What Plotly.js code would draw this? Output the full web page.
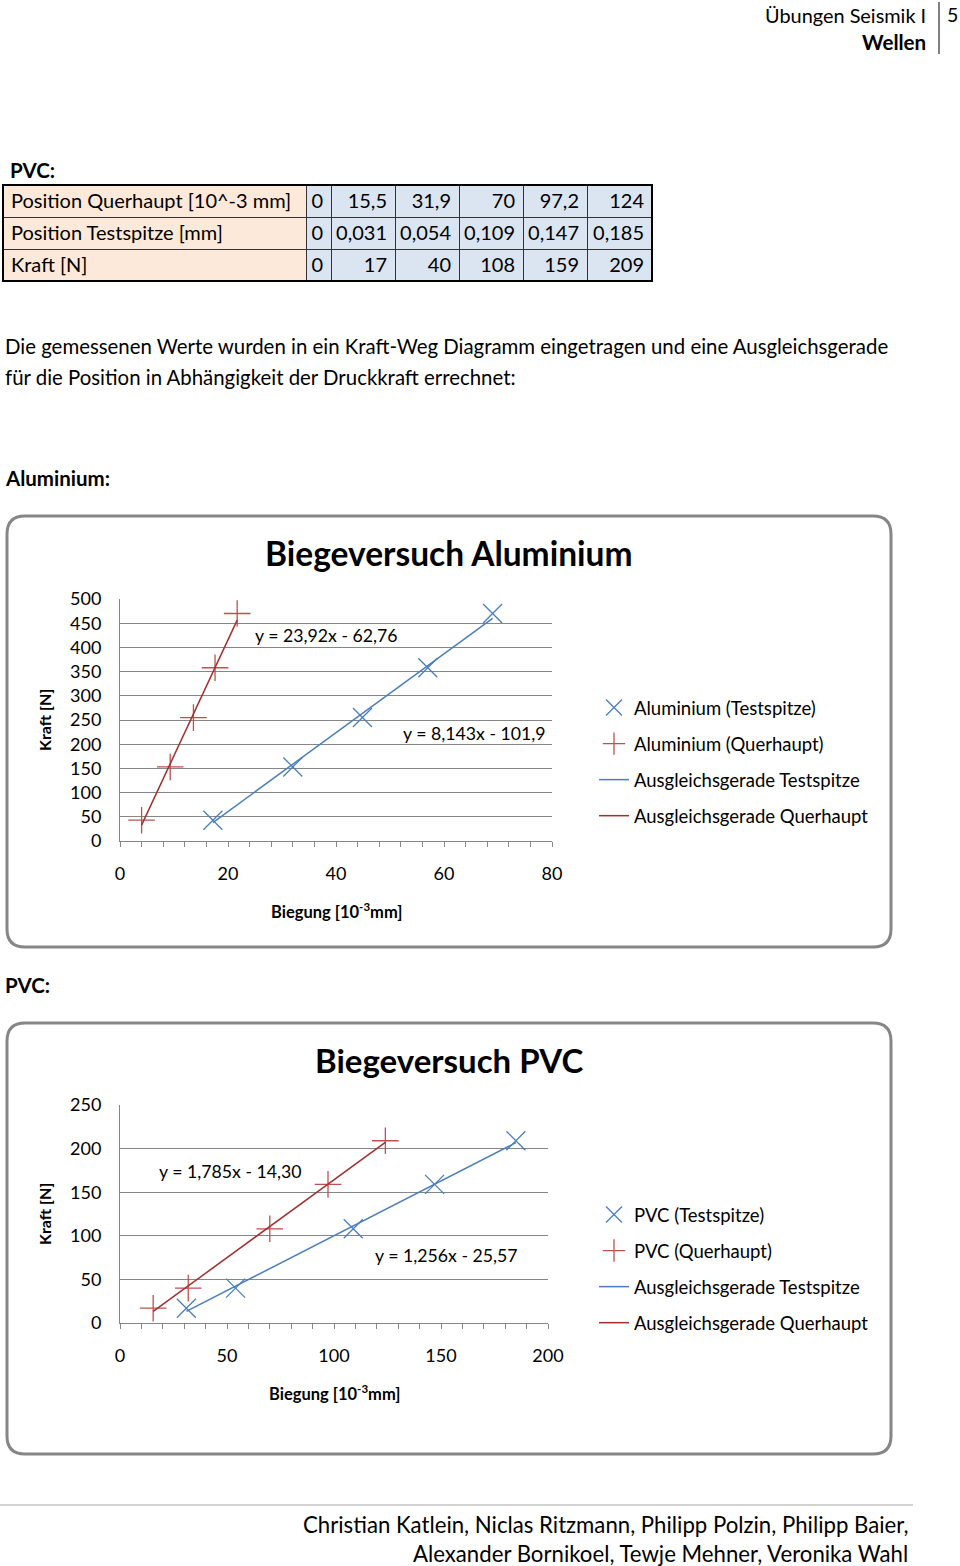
<!DOCTYPE html>
<html><head><meta charset="utf-8">
<script src="https://cdn.plot.ly/plotly-3.0.1.min.js"></script>
<style>html,body{margin:0;padding:0;background:#fff;} #chart{width:960px;height:1566px;}</style>
</head><body><div id="chart"></div>
<script>
// ---------- DATA ----------
const tableRowLabels = ['Position Querhaupt [10^-3 mm]', 'Position Testspitze [mm]', 'Kraft [N]'];
const pvcQuerhauptTbl = ['0', '15,5', '31,9', '70', '97,2', '124'];
const pvcTestspitzeTbl = ['0', '0,031', '0,054', '0,109', '0,147', '0,185'];
const pvcKraftTbl = ['0', '17', '40', '108', '159', '209'];

const aluTestX = [17.2, 32.0, 44.9, 57.0, 69.0];
const aluQuerX = [4.0, 9.3, 13.6, 17.6, 21.7];
const aluKraft = [43, 153, 255, 358, 470];
const aluFitTest = [8.143, -101.9];
const aluFitQuer = [23.92, -62.76];
const aluEqTest = 'y = 8,143x - 101,9';
const aluEqQuer = 'y = 23,92x - 62,76';

const pvcFitTest = [1.256, -25.57];
const pvcFitQuer = [1.785, -14.30];
const pvcEqTest = 'y = 1,256x - 25,57';
const pvcEqQuer = 'y = 1,785x - 14,30';

const aluNames = ['Aluminium (Testspitze)', 'Aluminium (Querhaupt)', 'Ausgleichsgerade Testspitze', 'Ausgleichsgerade Querhaupt'];
const pvcNames = ['PVC (Testspitze)', 'PVC (Querhaupt)', 'Ausgleichsgerade Testspitze', 'Ausgleichsgerade Querhaupt'];

// ---------- HELPERS ----------
const W = 960, H = 1566;
const px = x => x / W;
const py = y => 1 - y / H;
const num = s => parseFloat(s.replace(',', '.'));
const nowrap = s => s.replace(/ /g, '\u00a0');
// chart uses the measured rows without the zero point
const pvcQuerX = pvcQuerhauptTbl.slice(1).map(num);
const pvcTestX = pvcTestspitzeTbl.slice(1).map(s => num(s) * 1000);
const pvcKraft = pvcKraftTbl.slice(1).map(num);

function fitLine(xs, c) {
  const x0 = Math.min(...xs), x1 = Math.max(...xs);
  return { x: [x0, x1], y: [c[0] * x0 + c[1], c[0] * x1 + c[1]] };
}
const FONT = 'Lato, "Open Sans", sans-serif';
const BLUE = '#4a7ebb', RED = '#c0504d', RED_LINE = '#a0302e', BLUE_LINE = '#4a7ebb';
const GRID = '#868686';

function seriesTraces(xa, ya, leg, names, tx, qx, ky, ft, fq, g) {
  const lt = fitLine(tx, ft), lq = fitLine(qx, fq);
  return [
    { type: 'scatter', mode: 'markers', x: tx, y: ky, xaxis: xa, yaxis: ya, legend: leg, legendgroup: g + '1', name: names[0],
      marker: { symbol: 'x-thin', size: 19, color: BLUE, line: { color: BLUE, width: 1.3 } }, hoverinfo: 'x+y' },
    { type: 'scatter', mode: 'markers', x: qx, y: ky, xaxis: xa, yaxis: ya, legend: leg, legendgroup: g + '2', name: names[1],
      marker: { symbol: 'cross-thin', size: 19, color: RED, line: { color: RED, width: 1.3 } }, hoverinfo: 'x+y' },
    { type: 'scatter', mode: 'lines', x: lt.x, y: lt.y, xaxis: xa, yaxis: ya, legend: leg, legendgroup: g + '3', name: names[2],
      line: { color: BLUE_LINE, width: 1.5 } },
    { type: 'scatter', mode: 'lines', x: lq.x, y: lq.y, xaxis: xa, yaxis: ya, legend: leg, legendgroup: g + '4', name: names[3],
      line: { color: RED_LINE, width: 1.5 } }
  ];
}

// ---------- TABLE ----------
const colFill = ['#fde9d9', '#dbe5f1', '#dbe5f1', '#dbe5f1', '#dbe5f1', '#dbe5f1', '#dbe5f1'];
const colAlign = ['left', 'right', 'right', 'right', 'right', 'right', 'right'];
const cellCols = [[nowrap(tableRowLabels[1]), nowrap(tableRowLabels[2])]].concat(
  pvcTestspitzeTbl.map((v, i) => [v, pvcKraftTbl[i]]));
const tableTrace = {
  type: 'table',
  domain: { x: [px(3), px(652)], y: [py(320), py(185)] },
  columnwidth: [303, 25, 64, 64, 64, 64, 65],
  header: { values: [nowrap(tableRowLabels[0])].concat(pvcQuerhauptTbl), align: colAlign, height: 32,
    fill: { color: colFill }, line: { color: '#333', width: 1 },
    font: { family: FONT, size: 20, color: '#000' } },
  cells: { values: cellCols, align: colAlign, height: 32,
    fill: { color: colFill }, line: { color: '#333', width: 1 },
    font: { family: FONT, size: 20, color: '#000' } }
};

const data = [tableTrace]
  .concat(seriesTraces('x', 'y', 'legend', aluNames, aluTestX, aluQuerX, aluKraft, aluFitTest, aluFitQuer, 'a'))
  .concat(seriesTraces('x2', 'y2', 'legend2', pvcNames, pvcTestX, pvcQuerX, pvcKraft, pvcFitTest, pvcFitQuer, 'p'));

// ---------- LAYOUT ----------
function roundRect(x0, y0, x1, y1, r) {
  const P = (x, y) => px(x) + ',' + py(y);
  return 'M' + P(x0 + r, y0) + ' L' + P(x1 - r, y0) + ' Q' + P(x1, y0) + ' ' + P(x1, y0 + r) +
    ' L' + P(x1, y1 - r) + ' Q' + P(x1, y1) + ' ' + P(x1 - r, y1) +
    ' L' + P(x0 + r, y1) + ' Q' + P(x0, y1) + ' ' + P(x0, y1 - r) +
    ' L' + P(x0, y0 + r) + ' Q' + P(x0, y0) + ' ' + P(x0 + r, y0) + ' Z';
}
function xAxis(dom, range, dtick, mdtick, anchor) {
  return { domain: dom, range: range, dtick: dtick, tick0: 0, ticks: 'outside', ticklen: 5, tickcolor: GRID, tickwidth: 1,
    minor: { dtick: mdtick, tick0: 0, ticks: 'outside', ticklen: 5, tickcolor: GRID, tickwidth: 1, showgrid: false },
    showgrid: false, zeroline: false, showline: true, linecolor: GRID, linewidth: 1,
    tickfont: { family: FONT, size: 18, color: '#000' }, ticklabelstandoff: 11, anchor: anchor, fixedrange: true };
}
function yAxis(dom, range, anchor) {
  return { domain: dom, range: range, dtick: 50, tick0: 0, ticks: '', showgrid: true, gridcolor: GRID, gridwidth: 1,
    zeroline: false, showline: true, linecolor: GRID, linewidth: 1,
    tickfont: { family: FONT, size: 18, color: '#000' }, ticklabelstandoff: 14, anchor: anchor, fixedrange: true };
}
function ann(text, x, y, size, xanchor, extra) {
  return Object.assign({ text: text, x: px(x), y: py(y), xref: 'paper', yref: 'paper', showarrow: false,
    xanchor: xanchor || 'left', yanchor: 'middle', font: { family: FONT, size: size, color: '#000' } }, extra || {});
}
const legendBase = { xanchor: 'left', yanchor: 'top', font: { family: FONT, size: 18.5, color: '#000' },
  tracegroupgap: 9, bgcolor: 'rgba(0,0,0,0)', traceorder: 'grouped' };

const layout = {
  width: W, height: H, margin: { l: 0, r: 0, t: 0, b: 0 },
  paper_bgcolor: '#fff', plot_bgcolor: 'rgba(0,0,0,0)',
  font: { family: FONT, color: '#000' }, showlegend: true,
  xaxis: xAxis([px(120), px(552)], [0, 80], 20, 4, 'y'),
  yaxis: yAxis([py(841), py(599)], [0, 500], 'x'),
  xaxis2: xAxis([px(120), px(548)], [0, 200], 50, 10, 'y2'),
  yaxis2: yAxis([py(1323), py(1105)], [0, 250], 'x2'),
  legend: Object.assign({ x: px(594), y: py(689) }, legendBase),
  legend2: Object.assign({ x: px(594), y: py(1196) }, legendBase),
  shapes: [
    { type: 'path', xref: 'paper', yref: 'paper', path: roundRect(7, 516, 891, 947, 18), line: { color: GRID, width: 3 }, layer: 'below' },
    { type: 'path', xref: 'paper', yref: 'paper', path: roundRect(7, 1023, 891, 1454, 18), line: { color: GRID, width: 3 }, layer: 'below' },
    { type: 'line', xref: 'paper', yref: 'paper', x0: px(939), x1: px(939), y0: py(2), y1: py(54), line: { color: '#000', width: 1 } },
    { type: 'line', xref: 'paper', yref: 'paper', x0: px(0), x1: px(913), y0: py(1505), y1: py(1505), line: { color: '#a6a6a6', width: 1 } },
    { type: 'rect', xref: 'paper', yref: 'paper', x0: px(3), x1: px(652), y0: py(185), y1: py(281), line: { color: '#000', width: 2 } }
  ],
  annotations: [
    ann('Übungen Seismik I', 928, 15, 19.9, 'right'),
    ann('<b>Wellen</b>', 928, 42, 20.6, 'right'),
    ann('5', 945, 15, 19.5, 'left'),
    ann('<b>PVC:</b>', 8, 170, 20.5, 'left'),
    ann('Die gemessenen Werte wurden in ein Kraft-Weg Diagramm eingetragen und eine Ausgleichsgerade', 3, 346, 20.4, 'left'),
    ann('für die Position in Abhängigkeit der Druckkraft errechnet:', 3, 377, 20.4, 'left'),
    ann('<b>Aluminium:</b>', 3, 478, 20.5, 'left'),
    ann('<b>Biegeversuch Aluminium</b>', 449, 553, 33.5, 'center'),
    ann('<b>Kraft [N]</b>', 44, 720, 16, 'center', { textangle: -90 }),
    ann('<b>Biegung [10<sup>-3</sup>mm]</b>', 336, 911, 16.5, 'center'),
    ann(aluEqQuer, 326, 635, 17.7, 'center'),
    ann(aluEqTest, 474, 733, 17.7, 'center'),
    ann('<b>PVC:</b>', 3, 985, 20.5, 'left'),
    ann('<b>Biegeversuch PVC</b>', 449, 1060, 33, 'center'),
    ann('<b>Kraft [N]</b>', 44, 1214, 16, 'center', { textangle: -90 }),
    ann('<b>Biegung [10<sup>-3</sup>mm]</b>', 334, 1393, 16.5, 'center'),
    ann(pvcEqQuer, 230, 1171, 17.7, 'center'),
    ann(pvcEqTest, 446, 1255, 17.7, 'center'),
    ann('Christian Katlein, Niclas Ritzmann, Philipp Polzin, Philipp Baier,', 910, 1524, 22.2, 'right'),
    ann('Alexander Bornikoel, Tewje Mehner, Veronika Wahl', 910, 1553, 22.2, 'right')
  ]
};

Plotly.newPlot('chart', data, layout, { displayModeBar: false, staticPlot: true });
</script>
</body></html>
